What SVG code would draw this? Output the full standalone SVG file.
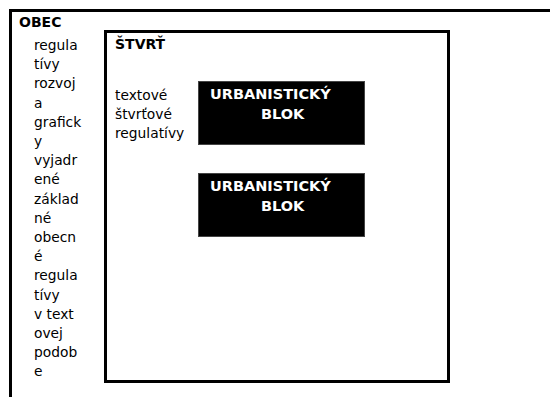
<svg xmlns="http://www.w3.org/2000/svg" width="550" height="397" viewBox="0 0 550 397">
<style>
.frame{fill:none;stroke:#000;stroke-width:3}
.blk{fill:#000;stroke:#444;stroke-width:1}
.t{font-family:"DejaVu Sans",Verdana,sans-serif;font-size:13.8px;fill:#000}
.h{font-family:"DejaVu Sans",Verdana,sans-serif;font-size:14px;font-weight:bold;fill:#000}
.w{font-family:"DejaVu Sans",Verdana,sans-serif;font-size:14.5px;font-weight:bold;fill:#fff}
</style>
<rect width="550" height="397" fill="#fff"/>
<g id="obec">
<rect class="frame" x="10.5" y="10.5" width="700" height="500"/>
<text class="h" x="19" y="27">OBEC</text>
<text class="t" x="34">
<tspan x="34" y="50">regula</tspan>
<tspan x="34" y="69.2">tívy</tspan>
<tspan x="34" y="88.4">rozvoj</tspan>
<tspan x="34" y="107.6">a</tspan>
<tspan x="34" y="126.8">grafick</tspan>
<tspan x="34" y="146">y</tspan>
<tspan x="34" y="165.2">vyjadr</tspan>
<tspan x="34" y="184.4">ené</tspan>
<tspan x="34" y="203.6">základ</tspan>
<tspan x="34" y="222.8">né</tspan>
<tspan x="34" y="242">obecn</tspan>
<tspan x="34" y="261.2">é</tspan>
<tspan x="34" y="280.4">regula</tspan>
<tspan x="34" y="299.6">tívy</tspan>
<tspan x="34" y="318.8">v text</tspan>
<tspan x="34" y="338">ovej</tspan>
<tspan x="34" y="357.2">podob</tspan>
<tspan x="34" y="376.4">e</tspan>
</text>
</g>
<g id="stvrt">
<rect class="frame" x="105.5" y="31.5" width="343" height="350"/>
<text class="h" x="115" y="49">ŠTVRŤ</text>
<text class="t">
<tspan x="115" y="100">textové</tspan>
<tspan x="115" y="119">štvrťové</tspan>
<tspan x="115" y="138">regulatívy</tspan>
</text>
</g>
<g id="blok1">
<rect class="blk" x="198.5" y="81.5" width="166" height="63"/>
<text class="w" x="210" y="99">URBANISTICKÝ</text>
<text class="w" x="261" y="119">BLOK</text>
</g>
<g id="blok2">
<rect class="blk" x="198.5" y="173.5" width="166" height="63"/>
<text class="w" x="210" y="191">URBANISTICKÝ</text>
<text class="w" x="261" y="211">BLOK</text>
</g>
<g id="connectors"></g>
</svg>
